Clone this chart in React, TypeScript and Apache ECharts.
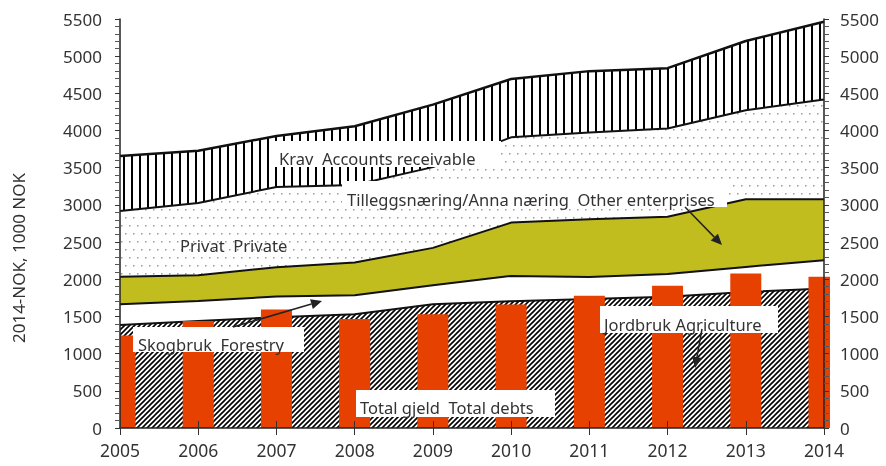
import React, { useEffect, useRef } from 'react';
import * as echarts from 'echarts';

const years = ['2005', '2006', '2007', '2008', '2009', '2010', '2011', '2012', '2013', '2014'];
// stacked segments, bottom to top (1000 NOK, 2014-NOK)
const agriculture = [1385, 1440, 1490, 1530, 1665, 1705, 1735, 1765, 1830, 1875];
const forestry = [278, 269, 277, 256, 255, 340, 296, 305, 336, 381];
const otherEnterprises = [372, 345, 395, 439, 502, 717, 775, 770, 910, 820];
const privateDebt = [883, 972, 1079, 1043, 1086, 1147, 1169, 1188, 1196, 1340];
const accountsReceivable = [739, 703, 686, 789, 840, 784, 824, 811, 932, 1048];
// bars
const totalDebts = [1245, 1438, 1595, 1465, 1528, 1660, 1778, 1912, 2079, 2034];

const Y_MIN = 0;
const Y_MAX = 5500;
const Y_STEP = 500;

const FONT = '"Noto Sans", "Open Sans", sans-serif';
const TEXT = '#333';
const BAR_W = 31;

function tile(w: number, h: number, draw: (ctx: CanvasRenderingContext2D) => void) {
  const c = document.createElement('canvas');
  c.width = w;
  c.height = h;
  const ctx = c.getContext('2d')!;
  ctx.fillStyle = '#fff';
  ctx.fillRect(0, 0, w, h);
  draw(ctx);
  return { image: c, repeat: 'repeat', imageWidth: w, imageHeight: h } as any;
}

function arrow(x1: number, y1: number, x2: number, y2: number) {
  const dx = x2 - x1, dy = y2 - y1;
  const len = Math.sqrt(dx * dx + dy * dy);
  const ux = dx / len, uy = dy / len;
  const hl = 11, hw = 5;
  const bx = x2 - ux * hl, by = y2 - uy * hl;
  return [
    { type: 'line', z: 200, shape: { x1, y1, x2: bx, y2: by }, style: { stroke: '#222', lineWidth: 1.5 } },
    {
      type: 'polygon', z: 200,
      shape: { points: [[x2, y2], [bx - uy * hw, by + ux * hw], [bx + uy * hw, by - ux * hw]] },
      style: { fill: '#222' },
    },
  ];
}

function label(text: string, tx: number, ty: number, box?: [number, number, number, number]) {
  const els: any[] = [];
  if (box) {
    els.push({ type: 'rect', z: 150, shape: { x: box[0], y: box[1], width: box[2] - box[0], height: box[3] - box[1] }, style: { fill: '#fff' } });
  }
  els.push({
    type: 'text', z: 160,
    style: { text, x: tx, y: ty, font: `16.5px ${FONT}`, fill: TEXT, textAlign: 'left', textVerticalAlign: 'middle' },
  });
  return els;
}

export default function App() {
  const ref = useRef<HTMLDivElement>(null);
  useEffect(() => {
    if (!ref.current) return;
    const chart = echarts.init(ref.current, null, { renderer: 'svg' });

    const diag = tile(5, 5, (ctx) => {
      ctx.strokeStyle = '#000';
      ctx.lineWidth = 1.6;
      ctx.beginPath();
      ctx.moveTo(-1, 6); ctx.lineTo(6, -1);
      ctx.moveTo(-1, 1); ctx.lineTo(1, -1);
      ctx.moveTo(4, 6); ctx.lineTo(6, 4);
      ctx.stroke();
    });
    const vert = tile(8, 4, (ctx) => {
      ctx.fillStyle = '#000';
      ctx.fillRect(3, 0, 2, 4);
    });
    const dots = tile(8, 16, (ctx) => {
      ctx.fillStyle = '#999';
      ctx.fillRect(1, 1, 1.5, 1.5);
      ctx.fillRect(5, 9, 1.5, 1.5);
    });

    const layers: [string, number[], any][] = [
      ['Jordbruk Agriculture', agriculture, diag],
      ['Skogbruk Forestry', forestry, '#ffffff'],
      ['Tilleggsnæring/Anna næring Other enterprises', otherEnterprises, '#C2BD1E'],
      ['Privat Private', privateDebt, dots],
      ['Krav Accounts receivable', accountsReceivable, vert],
    ];

    const series: any[] = [];
    layers.forEach(([name, data, color]) => {
      series.push({
        name, type: 'line', stack: 'area', data, symbol: 'none', silent: true, z: 1,
        lineStyle: { width: 0, opacity: 0 },
        areaStyle: { color, opacity: 1 },
      });
    });
    layers.forEach(([name, data], i) => {
      series.push({
        name: name + ' edge', type: 'line', stack: 'edge', data, symbol: 'none', silent: true, z: 2,
        lineStyle: { color: '#111', width: i === layers.length - 1 ? 2.5 : 2 },
      });
    });
    series.push({
      name: 'Total gjeld Total debts', type: 'custom', z: 3, silent: true,
      data: totalDebts.map((v, i) => [i, v]),
      encode: { x: 0, y: 1 },
      renderItem: (params: any, api: any) => {
        const idx = api.value(0);
        const v = api.value(1);
        const top = api.coord([idx, v]);
        const base = api.coord([idx, 0]);
        const cs = params.coordSys;
        const x0 = Math.max(top[0] - BAR_W / 2, cs.x);
        const x1 = Math.min(top[0] + BAR_W / 2, cs.x + cs.width + 6);
        return {
          type: 'rect',
          shape: { x: x0, y: top[1], width: x1 - x0, height: base[1] - top[1] },
          style: { fill: '#E64100' },
        };
      },
    });

    const yAxisBase = (position: 'left' | 'right', margin: number) => ({
      type: 'value', position, min: Y_MIN, max: Y_MAX, interval: Y_STEP, z: 10,
      axisLine: { show: true, lineStyle: { color: '#222', width: 1.5 } },
      axisTick: { show: true, length: 5, lineStyle: { color: '#333' } },
      minorTick: { show: true, splitNumber: 5, length: 5, lineStyle: { color: '#555' } },
      splitLine: { show: false },
      axisLabel: { color: TEXT, fontSize: 17, fontFamily: FONT, margin, formatter: (v: number) => String(v) },
    });

    chart.setOption({
      animation: false,
      grid: { left: 120, right: 62, top: 19, bottom: 38, containLabel: false, outerBoundsMode: 'none' },
      xAxis: [
        {
          type: 'category', data: years, boundaryGap: false, position: 'bottom',
          axisLine: { show: true, lineStyle: { color: '#222', width: 1.5 } },
          axisTick: { show: true, length: 7, inside: false, lineStyle: { color: '#333' } },
          axisLabel: { color: TEXT, fontSize: 17.5, fontFamily: FONT, margin: 13 },
          splitLine: { show: false },
          z: 10,
        },
        {
          type: 'category', data: years, boundaryGap: false, position: 'bottom',
          axisLine: { show: false },
          axisTick: { show: true, length: 7, inside: true, lineStyle: { color: '#333' } },
          axisLabel: { show: false },
          splitLine: { show: false },
          z: 10,
        },
      ],
      yAxis: [yAxisBase('left', 18), yAxisBase('right', 16)],
      series,
      graphic: [
        {
          type: 'text', z: 160, x: 18, y: 258, rotation: Math.PI / 2,
          style: { text: '2014-NOK, 1000 NOK', font: `17px ${FONT}`, fill: TEXT, textAlign: 'center', textVerticalAlign: 'middle' },
        },
        ...label('Krav  Accounts receivable', 279, 158, [273, 141, 501, 167]),
        ...label('Tilleggsnæring/Anna næring  Other enterprises', 347, 199, [342, 181, 727, 207]),
        ...label('Privat  Private', 180, 245),
        ...label('Skogbruk  Forestry', 138, 344, [133, 327, 304, 352]),
        ...label('Total gjeld  Total debts', 360, 407, [356, 390, 555, 417]),
        ...label('Jordbruk Agriculture', 604, 324, [600, 306, 778, 333]),
        ...arrow(685, 207, 722, 245),
        ...arrow(233, 327, 322, 301),
        ...arrow(702, 329, 695, 368),
      ],
    });
    return () => chart.dispose();
  }, []);
  return <div ref={ref} style={{ position: 'fixed', left: 0, top: 0, width: 886, height: 466 }} />;
}
